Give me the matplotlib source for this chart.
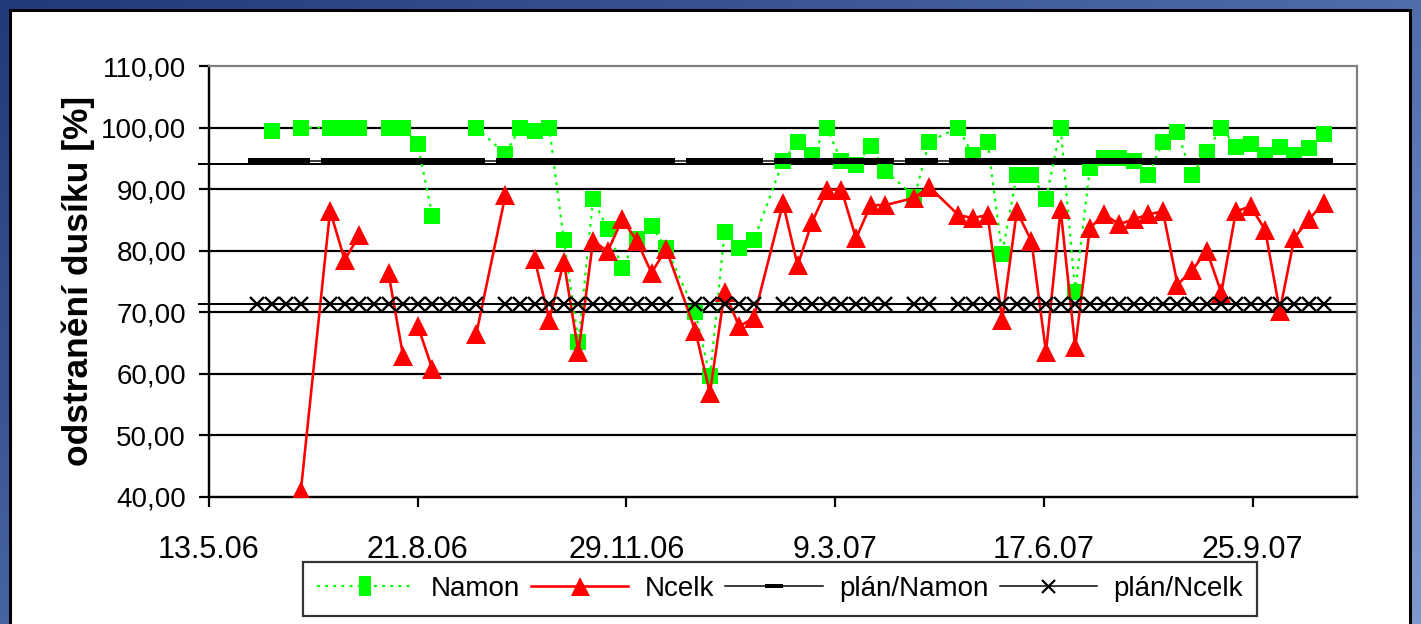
import matplotlib
matplotlib.use("Agg")
import matplotlib.pyplot as plt
import numpy as np
from matplotlib.path import Path
from matplotlib.lines import Line2D
from matplotlib.patches import Rectangle
from datetime import datetime

plt.rcParams['font.family'] = ['Liberation Sans', 'DejaVu Sans']

# Weekly sampling dates (Mondays)
dates = [
    "2006-06-05", "2006-06-12", "2006-06-19", "2006-06-26", "2006-07-10", "2006-07-17",
    "2006-07-24", "2006-07-31", "2006-08-07", "2006-08-14", "2006-08-21", "2006-08-28",
    "2006-09-04", "2006-09-11", "2006-09-18", "2006-10-02", "2006-10-09", "2006-10-16",
    "2006-10-23", "2006-10-30", "2006-11-06", "2006-11-13", "2006-11-20", "2006-11-27",
    "2006-12-04", "2006-12-11", "2006-12-18", "2007-01-01", "2007-01-08", "2007-01-15",
    "2007-01-22", "2007-01-29", "2007-02-12", "2007-02-19", "2007-02-26", "2007-03-05",
    "2007-03-12", "2007-03-19", "2007-03-26", "2007-04-02", "2007-04-16", "2007-04-23",
    "2007-05-07", "2007-05-14", "2007-05-21", "2007-05-28", "2007-06-04", "2007-06-11",
    "2007-06-18", "2007-06-25", "2007-07-02", "2007-07-09", "2007-07-16", "2007-07-23",
    "2007-07-30", "2007-08-06", "2007-08-13", "2007-08-20", "2007-08-27", "2007-09-03",
    "2007-09-10", "2007-09-17", "2007-09-24", "2007-10-01", "2007-10-08", "2007-10-15",
    "2007-10-22", "2007-10-29",
]

nan = np.nan
# Ammonia nitrogen removal [%]
namon = [
    nan, 99.5, nan, 100.0, 100.0, 100.0,
    100.0, nan, 100.0, 100.0, 97.3, 85.7,
    nan, nan, 100.0, 95.7, 100.0, 99.5,
    100.0, 81.7, 65.2, 88.4, 83.5, 77.2,
    81.9, 84.0, 80.5, 70.0, 59.6, 83.0,
    80.4, 81.7, 94.5, 97.7, 95.5, 100.0,
    94.5, 94.0, 97.0, 93.0, 88.8, 97.7,
    100.0, 95.5, 97.7, 79.5, 92.3, 92.3,
    88.4, 100.0, 73.3, 93.4, 95.1, 95.1,
    94.5, 92.3, 97.6, 99.2, 92.3, 96.1,
    100.0, 96.9, 97.3, 95.6, 96.9, 95.6,
    96.7, 98.9,
]
# Total nitrogen removal [%]
ncelk = [
    nan, nan, nan, 41.0, 86.5, 78.5,
    82.5, nan, 76.3, 62.9, 67.8, 60.8,
    nan, nan, 66.4, 89.0, nan, 78.6,
    68.8, 78.2, 63.5, 81.6, 79.9, 85.1,
    81.6, 76.4, 80.3, 67.0, 56.9, 73.3,
    67.7, 69.1, 87.7, 77.6, 84.7, 89.9,
    89.9, 82.0, 87.4, 87.4, 88.6, 90.4,
    85.8, 85.3, 85.8, 68.8, 86.4, 81.6,
    63.5, 86.7, 64.3, 83.7, 85.9, 84.3,
    85.1, 85.9, 86.4, 74.5, 76.8, 80.0,
    73.2, 86.4, 87.2, 83.4, 70.2, 82.1,
    85.1, 87.7,
]
# The Ncelk line is interrupted just before these dates
ncelk_breaks = ["2006-08-21"]

# Planned removal targets [%]
plan_namon_value = 94.5
plan_ncelk_value = 71.3
# Reference lines drawn across the whole plot
ref_lines = [94.1, 71.35]

y_ticks = [40, 50, 60, 70, 80, 90, 100, 110]
x_tick_dates = ["2006-05-13", "2006-08-21", "2006-11-29", "2007-03-09", "2007-06-17", "2007-09-25"]
x_tick_labels = ["13.5.06", "21.8.06", "29.11.06", "9.3.07", "17.6.07", "25.9.07"]
x_range = ["2006-05-13", "2007-11-14"]

W, H = 1421, 624
fig = plt.figure(figsize=(W / 100, H / 100), dpi=100)

# Slide-style blue background with a white chart panel
bg = fig.add_axes([0, 0, 1, 1], zorder=-10)
gx = np.linspace(0, 1, 300)
gy = np.linspace(0, 1, 150)
GX, GY = np.meshgrid(gx, gy)
grad = 0.55 * GX + 0.45 * (1 - GY)
bg.imshow(grad, cmap=matplotlib.colors.LinearSegmentedColormap.from_list(
    "slide", ["#22397a", "#4a68a8", "#7d9ad0"]), aspect="auto",
    extent=[0, 1, 0, 1], origin="lower")
bg.add_patch(Rectangle((10 / W, -0.05), (1410 - 10) / W, 1.05 - 10 / H,
                       facecolor="white", edgecolor="black", lw=2.2))
bg.set_xlim(0, 1)
bg.set_ylim(0, 1)
bg.axis("off")

px = lambda v: v * 72 / 100  # pixels -> points

L, R, T, B = 209, 1357, 66, 497
ax = fig.add_axes([L / W, 1 - B / H, (R - L) / W, (B - T) / H])
ax.set_facecolor("white")

to_dt = lambda s: datetime.strptime(s, "%Y-%m-%d")
d = [to_dt(s) for s in dates]
ax.set_xlim(to_dt(x_range[0]), to_dt(x_range[1]))
ax.set_ylim(40, 110)

# Horizontal gridlines
for v in y_ticks[1:-1]:
    ax.axhline(v, color="black", lw=px(2.2), zorder=1)
for v in ref_lines:
    ax.plot([-10 / (R - L), 1], [v, v], color="black", lw=px(2.0),
            transform=ax.get_yaxis_transform(), clip_on=False, zorder=1)

def rect_marker(hw, hh):
    return Path([(-hw, -hh), (hw, -hh), (hw, hh), (-hw, hh), (-hw, -hh)],
                [Path.MOVETO, Path.LINETO, Path.LINETO, Path.LINETO, Path.CLOSEPOLY])

def with_breaks(xs, ys, breaks):
    bx, by = [], []
    bset = {to_dt(s) for s in breaks}
    for x, y in zip(xs, ys):
        if x in bset:
            bx.append(x)
            by.append(np.nan)
        bx.append(x)
        by.append(y)
    return bx, by

dash = rect_marker(1, 0.32)
dotted = (0, (1.3, 2.4))

ax.plot(d, namon, color="#00ff00", lw=px(2.2), ls=dotted,
        marker="s", ms=px(16.5), mec="#00ff00", mfc="#00ff00", mew=0, zorder=3)
nx, ny = with_breaks(d, ncelk, ncelk_breaks)
ax.plot(nx, ny, color="#ff0000", lw=px(2.6), marker="^", ms=px(19.5),
        mec="#ff0000", mfc="#ff0000", mew=0, zorder=4)
ax.plot(d, np.full(len(d), plan_namon_value), color="black", lw=px(1.5),
        marker=dash, ms=px(18), mec="black", mfc="black", mew=0, zorder=5)
ax.plot(d, np.full(len(d), plan_ncelk_value), color="black", lw=px(1.5),
        marker="x", ms=px(14), mec="black", mew=px(2.4), zorder=6)

# Axes styling
for s in ("left", "bottom"):
    ax.spines[s].set_color("black")
    ax.spines[s].set_linewidth(px(2.4))
for s in ("top", "right"):
    ax.spines[s].set_color("#808080")
    ax.spines[s].set_linewidth(px(2.2))

ax.set_yticks(y_ticks)
ax.set_yticklabels([f"{v:.2f}".replace(".", ",") for v in y_ticks])
ax.set_xticks([to_dt(s) for s in x_tick_dates])
ax.set_xticklabels(x_tick_labels)
ax.tick_params(axis="both", direction="out", length=px(10), width=px(2.2), color="black")
ax.tick_params(axis="y", pad=px(13), labelsize=20)
ax.tick_params(axis="x", pad=px(28), labelsize=22)

fig.text(78 / W, 1 - 281 / H, "odstranění dusíku [%]", rotation=90,
         ha="center", va="center", fontsize=25.5, fontweight="bold")

# Legend
handles = [
    Line2D([], [], color="#00ff00", lw=px(2.2), ls=dotted, marker=rect_marker(0.6, 1),
           ms=px(20), mec="#00ff00", mfc="#00ff00", mew=0),
    Line2D([], [], color="#ff0000", lw=px(2.6), marker="^", ms=px(19),
           mec="#ff0000", mfc="#ff0000", mew=0),
    Line2D([], [], color="black", lw=px(1.5), marker=rect_marker(1, 0.25), ms=px(18),
           mfc="black", mew=0),
    Line2D([], [], color="black", lw=px(1.5), marker="x", ms=px(13), mew=px(2.2)),
]
labels = ["Namon", "Ncelk", "plán/Namon", "plán/Ncelk"]
leg = fig.legend(handles, labels, loc="center", bbox_to_anchor=(780 / W, 1 - 589 / H),
                 ncol=4, frameon=True, fancybox=False, shadow=False,
                 prop={"size": 20},
                 handlelength=3.5, handletextpad=0.6, columnspacing=0.4,
                 borderpad=0.5, borderaxespad=0, edgecolor="black")
leg.get_frame().set_linewidth(px(2.2))

fig.savefig("out.png", dpi=100)
